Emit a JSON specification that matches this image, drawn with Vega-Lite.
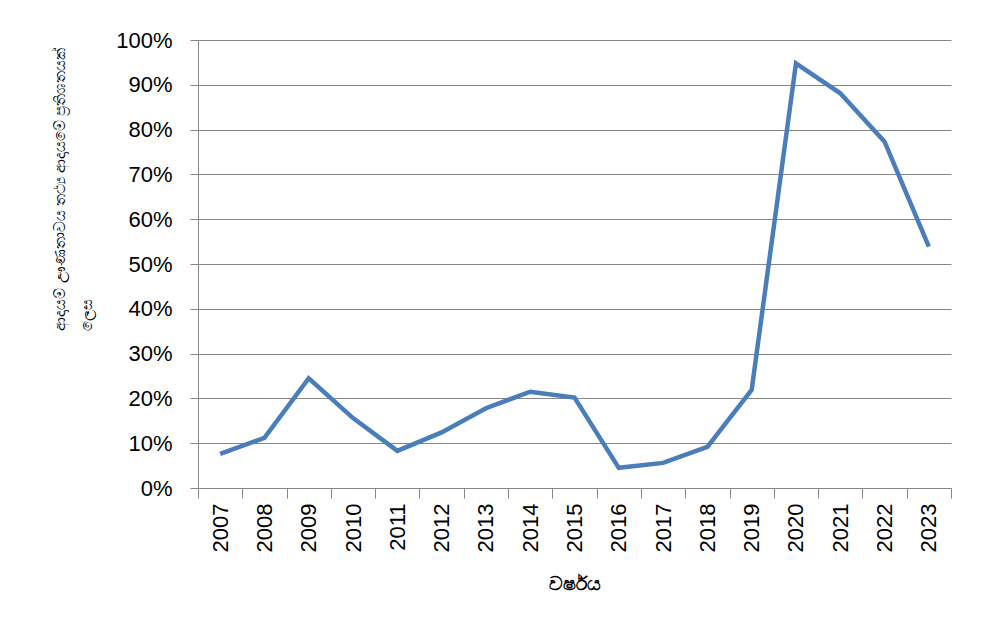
{
  "$schema": "https://vega.github.io/schema/vega-lite/v6.json",
  "width": 753,
  "height": 448,
  "autosize": {"type": "none"},
  "padding": {"left": 198, "top": 40, "right": 30, "bottom": 146},
  "background": "white",
  "config": {"view": {"stroke": null}, "font": "Liberation Sans"},
  "data": {"values": [
    {"year": "2007", "v": 0.076},
    {"year": "2008", "v": 0.112},
    {"year": "2009", "v": 0.245},
    {"year": "2010", "v": 0.156},
    {"year": "2011", "v": 0.083},
    {"year": "2012", "v": 0.124},
    {"year": "2013", "v": 0.178},
    {"year": "2014", "v": 0.215},
    {"year": "2015", "v": 0.202},
    {"year": "2016", "v": 0.045},
    {"year": "2017", "v": 0.056},
    {"year": "2018", "v": 0.092},
    {"year": "2019", "v": 0.219},
    {"year": "2020", "v": 0.948},
    {"year": "2021", "v": 0.881},
    {"year": "2022", "v": 0.773},
    {"year": "2023", "v": 0.539}
  ]},
  "mark": {"type": "line", "color": "#4a7ebb", "strokeWidth": 4.5, "strokeJoin": "miter"},
  "encoding": {
    "x": {
      "field": "year", "type": "ordinal", "bandPosition": 0.5,
      "scale": {"type": "band", "paddingInner": 0, "paddingOuter": 0},
      "axis": {
        "title": "වර්ෂය", "titleFontSize": 19, "titleFontWeight": "bold", "titleColor": "#000", "titlePadding": 23,
        "labelAngle": -90, "labelFontSize": 22, "labelColor": "#000", "labelPadding": 5,
        "tickBand": "extent", "tickSize": 10, "tickColor": "#868686", "domainColor": "#868686", "grid": false
      }
    },
    "y": {
      "field": "v", "type": "quantitative",
      "scale": {"domain": [0, 1], "nice": false},
      "axis": {
        "title": ["ආදායම් ඌණතාවය තථ්‍ය ආදායමේ ප්‍රතිශතයක්", "ලෙස"],
        "titleFontSize": 15, "titleFontWeight": "normal", "titleColor": "#000", "titleLineHeight": 27,
        "titleAngle": -90, "titleAlign": "left", "titleBaseline": "top", "titleY": 290, "titleX": -146,
        "values": [0, 0.1, 0.2, 0.3, 0.4, 0.5, 0.6, 0.7, 0.8, 0.9, 1],
        "format": ".0%", "labelFontSize": 22, "labelColor": "#000", "labelPadding": 18,
        "tickSize": 8, "tickColor": "#868686", "domainColor": "#868686",
        "grid": true, "gridColor": "#868686", "gridWidth": 1
      }
    }
  }
}
